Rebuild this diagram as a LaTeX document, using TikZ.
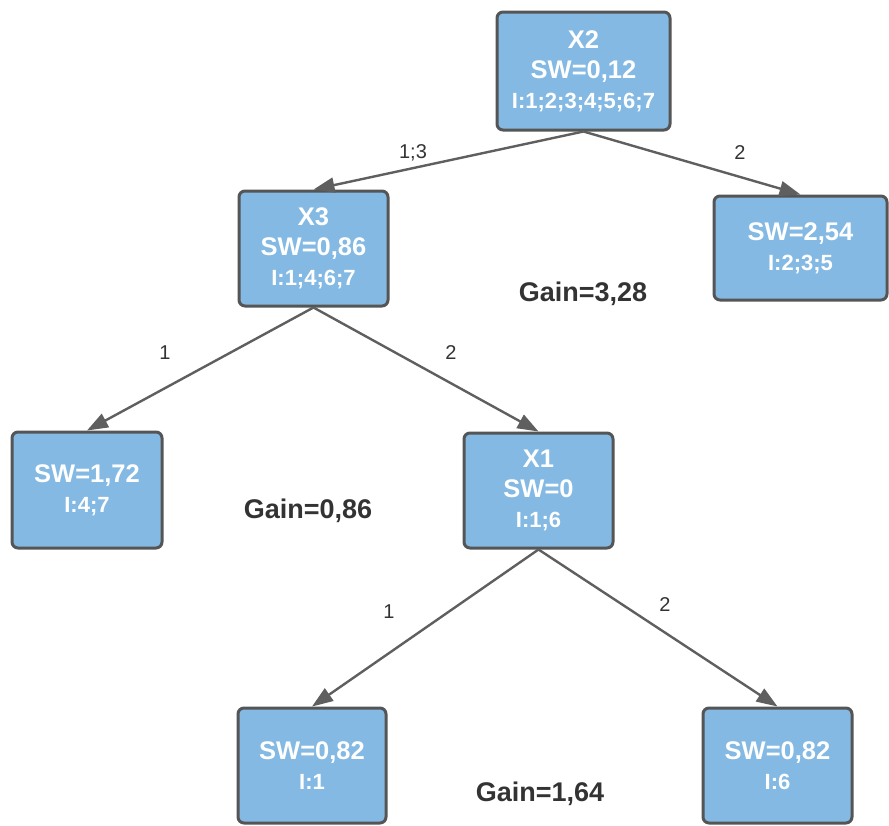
\documentclass[tikz,border=0pt]{standalone}
\usepackage{fontspec}
\setmainfont{Liberation Sans}
\usetikzlibrary{arrows.meta}
\definecolor{boxfill}{RGB}{131,185,227}
\definecolor{boxline}{RGB}{85,85,85}
\definecolor{edgeline}{RGB}{95,95,95}
\definecolor{labeltext}{RGB}{51,51,51}
\tikzset{
  treebox/.style={draw=boxline, line width=3pt, fill=boxfill, rounded corners=6pt,
    text=white, align=center, inner sep=0pt,
    font=\bfseries\fontsize{25.5}{30}\selectfont},
  edge/.style={draw=edgeline, line width=2.4pt,
    -{Triangle[length=21pt,width=15pt]}},
  edgelabel/.style={text=labeltext, font=\fontsize{20}{24}\selectfont},
  gainlabel/.style={text=labeltext, font=\bfseries\fontsize{27}{30}\selectfont},
}
\newcommand{\smallline}[1]{{\fontsize{22}{30}\selectfont #1}}
\begin{document}
\begin{tikzpicture}[x=1pt,y=-1pt]
\useasboundingbox (0,0) rectangle (889,825);

% tree boxes
\node[treebox, minimum width=173pt, minimum height=118pt] (root) at (583.5,71)
  {X2\\SW=0,12\\\smallline{I:1;2;3;4;5;6;7}};
\node[treebox, minimum width=149pt, minimum height=115pt] (x3) at (313.5,248.5)
  {X3\\SW=0,86\\\smallline{I:1;4;6;7}};
\node[treebox, minimum width=173pt, minimum height=104pt] (leafA) at (800.5,248)
  {SW=2,54\\\smallline{I:2;3;5}};
\node[treebox, minimum width=150pt, minimum height=116pt] (leafB) at (87,490)
  {SW=1,72\\\smallline{I:4;7}};
\node[treebox, minimum width=149pt, minimum height=115pt] (x1) at (538.5,490.5)
  {X1\\SW=0\\\smallline{I:1;6}};
\node[treebox, minimum width=148pt, minimum height=115pt] (leafC) at (312,765.5)
  {SW=0,82\\\smallline{I:1}};
\node[treebox, minimum width=149pt, minimum height=115pt] (leafD) at (777.5,765.5)
  {SW=0,82\\\smallline{I:6}};

% connectors
\draw[edge] (root.south) -- (x3.north);
\draw[edge] (root.south) -- (leafA.north);
\draw[edge] (x3.south) -- (leafB.north);
\draw[edge] (x3.south) -- (x1.north);
\draw[edge] (x1.south) -- (leafC.north);
\draw[edge] (x1.south) -- (leafD.north);

% branch labels
\node[edgelabel] (l13) at (413,153) {1;3};
\node[edgelabel] (l2a) at (740,153) {2};
\node[edgelabel] (l1b) at (165,353) {1};
\node[edgelabel] (l2b) at (451,353) {2};
\node[edgelabel] (l1c) at (389,612) {1};
\node[edgelabel] (l2c) at (665,605) {2};

% gains
\node[gainlabel] (g1) at (583,294) {Gain=3,28};
\node[gainlabel] (g2) at (308,511) {Gain=0,86};
\node[gainlabel] (g3) at (540,794) {Gain=1,64};
\end{tikzpicture}
\end{document}
